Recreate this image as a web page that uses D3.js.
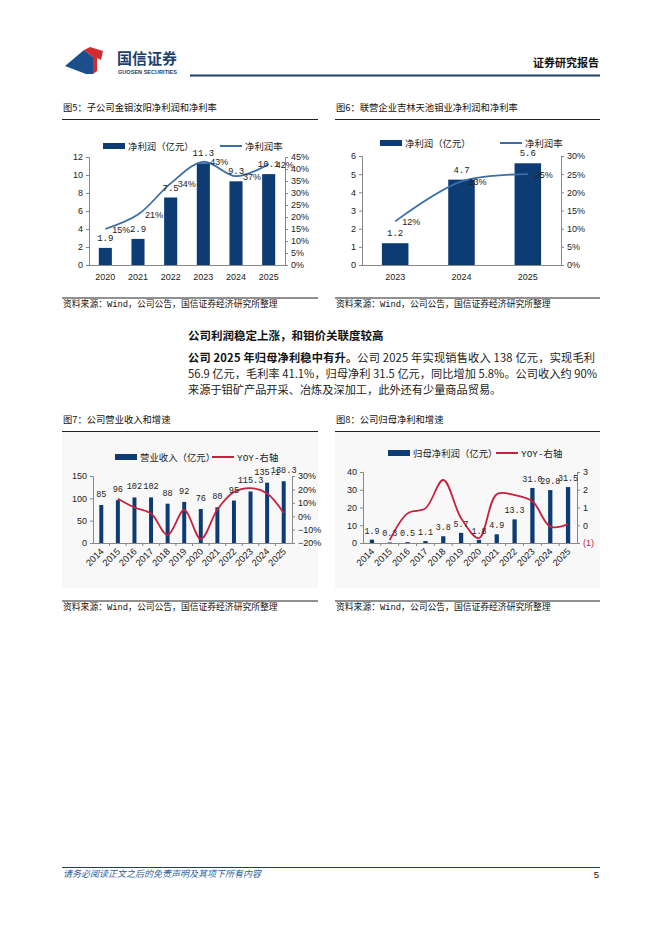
<!DOCTYPE html>
<html>
<head>
<meta charset="utf-8">
<script src="https://cdn.jsdelivr.net/npm/d3@7"></script>
<style>
  body { margin: 0; background: #fff; }
  svg text { font-family: "Noto Sans CJK SC", "Liberation Sans", sans-serif; }
</style>
</head>
<body>
<svg id="page" width="662" height="936"></svg>
<script>
// chart 5: 金钼汝阳
const c5Years = ["2020", "2021", "2022", "2023", "2024", "2025"];
const c5Profit = [1.9, 2.9, 7.5, 11.3, 9.3, 10.1];
const c5Margin = [0.15, 0.21, 0.34, 0.43, 0.37, 0.42];

// chart 6: 吉林天池钼业
const c6Years = ["2023", "2024", "2025"];
const c6Profit = [1.2, 4.7, 5.6];
const c6Margin = [0.12, 0.23, 0.25];

// chart 7: 营业收入
const c7Years = ["2014", "2015", "2016", "2017", "2018", "2019", "2020", "2021", "2022", "2023", "2024", "2025"];
const c7Revenue = [85, 96, 102, 102, 88, 92, 76, 80, 95, 115.3, 135.1, 138.3];
const c7Yoy = [null, 0.13, 0.065, 0.02, -0.14, 0.045, -0.17, 0.05, 0.18, 0.21, 0.17, 0.024];

// chart 8: 归母净利润
const c8Years = c7Years;
const c8Profit = [1.9, 0.3, 0.5, 1.1, 3.8, 5.7, 1.8, 4.9, 13.3, 31.0, 29.8, 31.5];
const c8Yoy = [null, -0.84, 0.67, 0.95, 2.55, 0.4, -0.72, 1.75, 1.7, 1.35, -0.08, 0.06];

const navy = "#0d3c74";
const blueLine = "#3b6ea8";
const redLine = "#c8203c";
const mono = "'Liberation Mono', 'Noto Sans CJK SC', monospace";

const svg = d3.select("#page");

// ---------- header ----------
svg.append("path")
    .attr("d", "M65,66 L84,50 L93,57 L93,74 L86,74 Z")
    .attr("fill", "#1b4f8c");
svg.append("path")
    .attr("d", "M84,50 L90,47 L103,51 L101,60 L97,58 L97,71 L93,74 L93,57 Z")
    .attr("fill", "#d52a30");
svg.append("text").attr("x", 117).attr("y", 64)
    .attr("font-size", 15).attr("font-weight", "bold").attr("fill", "#1d3f6e")
    .text("国信证券");
svg.append("text").attr("x", 118).attr("y", 74)
    .attr("font-size", 5.6).attr("font-weight", "bold").attr("fill", "#1d3f6e")
    .attr("textLength", 59).style("font-family", "'Liberation Sans', sans-serif")
    .text("GUOSEN SECURITIES");
svg.append("line").attr("x1", 190).attr("x2", 600).attr("y1", 75.5).attr("y2", 75.5)
    .attr("stroke", "#1c3f6b").attr("stroke-width", 2);
svg.append("text").attr("x", 599).attr("y", 67).attr("text-anchor", "end")
    .attr("font-size", 11).attr("font-weight", "bold").attr("fill", "#111")
    .text("证券研究报告");

// ---------- frames: titles, rules, sources ----------
function frame(x0, x1, titleY, srcY, title) {
    svg.append("text").attr("x", x0 + 1).attr("y", titleY)
        .attr("font-size", 9.3).attr("fill", "#111").text(title);
    svg.append("line").attr("x1", x0).attr("x2", x1)
        .attr("y1", titleY + 8.5).attr("y2", titleY + 8.5)
        .attr("stroke", "#222").attr("stroke-width", 1);
    svg.append("line").attr("x1", x0).attr("x2", x1)
        .attr("y1", srcY - 9).attr("y2", srcY - 9)
        .attr("stroke", "#222").attr("stroke-width", 1);
    svg.append("text").attr("x", x0 + 1).attr("y", srcY)
        .attr("font-size", 8.8).attr("fill", "#111")
        .style("font-family", mono)
        .text("资料来源：Wind，公司公告，国信证券经济研究所整理");
}

// faint panels behind chart 7 and 8
svg.append("rect").attr("x", 62).attr("y", 432).attr("width", 256).attr("height", 156).attr("fill", "#f8f8f8");
svg.append("rect").attr("x", 335).attr("y", 432).attr("width", 265).attr("height", 156).attr("fill", "#f8f8f8");

frame(62, 318, 111, 307, "图5：子公司金钼汝阳净利润和净利率");
frame(335, 600, 111, 307, "图6：联营企业吉林天池钼业净利润和净利率");
frame(62, 318, 423, 610, "图7：公司营业收入和增速");
frame(335, 600, 423, 610, "图8：公司归母净利和增速");

// ---------- body text ----------
svg.append("text").attr("x", 188).attr("y", 340)
    .attr("font-size", 11.5).attr("font-weight", "bold").attr("fill", "#111")
    .text("公司利润稳定上涨，和钼价关联度较高");

const p1 = svg.append("text").attr("x", 188).attr("y", 362)
    .attr("font-size", 11.2).attr("fill", "#222")
    .attr("textLength", 407).attr("lengthAdjust", "spacing");
p1.append("tspan").attr("font-weight", "bold").attr("fill", "#111").text("公司 2025 年归母净利稳中有升。");
p1.append("tspan").text("公司 2025 年实现销售收入 138 亿元，实现毛利");
svg.append("text").attr("x", 188).attr("y", 378)
    .attr("font-size", 11.2).attr("fill", "#222")
    .attr("textLength", 409).attr("lengthAdjust", "spacing")
    .text("56.9 亿元，毛利率 41.1%，归母净利 31.5 亿元，同比增加 5.8%。公司收入约 90%");
svg.append("text").attr("x", 188).attr("y", 394)
    .attr("font-size", 11.2).attr("fill", "#222")
    .text("来源于钼矿产品开采、冶炼及深加工，此外还有少量商品贸易。");

// ---------- footer ----------
svg.append("line").attr("x1", 62).attr("x2", 600).attr("y1", 867.5).attr("y2", 867.5)
    .attr("stroke", "#1c3f6b").attr("stroke-width", 1);
svg.append("text").attr("x", 63).attr("y", 877)
    .attr("font-size", 9).attr("fill", "#2f5f96").attr("font-style", "italic")
    .text("请务必阅读正文之后的免责声明及其项下所有内容");
svg.append("text").attr("x", 599).attr("y", 878).attr("text-anchor", "end")
    .attr("font-size", 9.5).attr("fill", "#111")
    .style("font-family", "'Liberation Sans', sans-serif").text("5");

// ---------- combo chart helper ----------
function drawCombo(o) {
    const g = svg.append("g");
    const x = d3.scaleBand().domain(o.cats).range([o.left, o.right])
        .paddingInner(o.pad).paddingOuter(o.pad / 2);
    const yL = d3.scaleLinear().domain([0, o.lMax]).range([o.bottom, o.top]);
    const yR = d3.scaleLinear().domain([o.rMin, o.rMax]).range([o.bottom, o.top]);
    const cx = d => x(d) + x.bandwidth() / 2;

    // left axis
    const axL = g.append("g").attr("transform", `translate(${o.left},0)`)
        .call(d3.axisLeft(yL).tickValues(d3.range(0, o.lMax + 1e-9, o.lStep))
            .tickFormat(d3.format("~g")).tickSize(3).tickPadding(3));
    // right axis
    const axR = g.append("g").attr("transform", `translate(${o.right},0)`)
        .call(d3.axisRight(yR).tickValues(d3.range(o.rMin, o.rMax + 1e-9, o.rStep))
            .tickFormat(o.rFmt).tickSize(3).tickPadding(3));
    [axL, axR].forEach(a => {
        a.selectAll("path,line").attr("stroke", "#888");
        a.selectAll("text").attr("font-size", 9).attr("fill", "#222")
            .style("font-family", "'Liberation Sans', sans-serif");
    });

    // bottom axis
    g.append("line").attr("x1", o.left).attr("x2", o.right)
        .attr("y1", o.bottom + 0.5).attr("y2", o.bottom + 0.5).attr("stroke", "#888");
    if (o.rotate) {
        g.selectAll(".tk").data(o.cats.slice(1)).join("line")
            .attr("x1", d => x(d) - x.step() * o.pad / 2).attr("x2", d => x(d) - x.step() * o.pad / 2)
            .attr("y1", o.bottom).attr("y2", o.bottom + 3).attr("stroke", "#888");
        g.selectAll(".xl").data(o.cats).join("text")
            .attr("transform", d => `translate(${cx(d) + 3},${o.bottom + 9}) rotate(-45)`)
            .attr("text-anchor", "end").attr("font-size", 9.3).attr("fill", "#222")
            .style("font-family", "'Liberation Sans', sans-serif")
            .text(d => d);
    } else {
        g.selectAll(".xl").data(o.cats).join("text")
            .attr("x", d => cx(d)).attr("y", o.bottom + 15)
            .attr("text-anchor", "middle").attr("font-size", 9).attr("fill", "#222")
            .style("font-family", "'Liberation Sans', sans-serif")
            .text(d => d);
    }

    // bars
    g.selectAll(".bar").data(o.bars).join("rect")
        .attr("x", (d, i) => x(o.cats[i])).attr("width", x.bandwidth())
        .attr("y", d => yL(d)).attr("height", d => o.bottom - yL(d))
        .attr("fill", navy);

    // line
    const pts = o.line.map((v, i) => ({ c: o.cats[i], v }));
    const line = d3.line().defined(d => d.v != null)
        .x(d => cx(d.c)).y(d => yR(d.v))
        .curve(d3.curveCatmullRom.alpha(0.5));
    g.append("path").datum(pts).attr("d", line)
        .attr("fill", "none").attr("stroke", o.lineColor).attr("stroke-width", 1.8);

    // bar labels
    g.selectAll(".bl").data(o.bars).join("text")
        .attr("x", (d, i) => cx(o.cats[i])).attr("y", d => yL(d) - o.labelGap)
        .attr("text-anchor", "middle").attr("font-size", o.labelSize).attr("fill", "#222")
        .style("font-family", mono)
        .text(o.barFmt);

    // line labels
    if (o.lineLabels) {
        g.selectAll(".ll").data(pts).join("text")
            .attr("x", d => cx(d.c) + 7).attr("y", d => yR(d.v) + 3.5)
            .attr("font-size", 9).attr("fill", "#222")
            .style("font-family", "'Liberation Sans', sans-serif")
            .text(d => d3.format(".0%")(d.v));
    }

    // legend
    const lg = o.legend;
    g.append("rect").attr("x", lg.x).attr("y", lg.y - 3).attr("width", 22).attr("height", 6).attr("fill", navy);
    g.append("text").attr("x", lg.x + 25).attr("y", lg.y + 3.5)
        .attr("font-size", 9.4).attr("fill", "#222").style("font-family", mono).text(lg.barName);
    g.append("line").attr("x1", lg.x2).attr("x2", lg.x2 + 22).attr("y1", lg.y).attr("y2", lg.y)
        .attr("stroke", o.lineColor).attr("stroke-width", 2);
    g.append("text").attr("x", lg.x2 + 25).attr("y", lg.y + 3.5)
        .attr("font-size", 9.4).attr("fill", "#222").style("font-family", mono).text(lg.lineName);
}

const pct = d3.format(".0%");
const barNum = d => Number.isInteger(d) ? String(d) : d.toFixed(1);

drawCombo({
    cats: c5Years, bars: c5Profit, line: c5Margin,
    left: 89, right: 285, top: 157, bottom: 265, pad: 0.6,
    lMax: 12, lStep: 2, rMin: 0, rMax: 0.45, rStep: 0.05, rFmt: pct,
    lineColor: blueLine, rotate: false, labelGap: 7, labelSize: 9, barFmt: d => d.toFixed(1), lineLabels: true,
    legend: { x: 103, y: 146, barName: "净利润（亿元）", x2: 220, lineName: "净利润率" }
});

drawCombo({
    cats: c6Years, bars: c6Profit, line: c6Margin,
    left: 362, right: 561, top: 156, bottom: 265, pad: 0.6,
    lMax: 6, lStep: 1, rMin: 0, rMax: 0.30, rStep: 0.05, rFmt: pct,
    lineColor: blueLine, rotate: false, labelGap: 7, labelSize: 9, barFmt: d => d.toFixed(1), lineLabels: true,
    legend: { x: 380, y: 143, barName: "净利润（亿元）", x2: 500, lineName: "净利润率" }
});

drawCombo({
    cats: c7Years, bars: c7Revenue, line: c7Yoy,
    left: 93, right: 292, top: 476, bottom: 543, pad: 0.76,
    lMax: 150, lStep: 50, rMin: -0.2, rMax: 0.3, rStep: 0.1, rFmt: pct,
    lineColor: redLine, rotate: true, labelGap: 8, labelSize: 8.6, barFmt: barNum, lineLabels: false,
    legend: { x: 115, y: 457, barName: "营业收入（亿元）", x2: 212, lineName: "YOY-右轴" }
});

drawCombo({
    cats: c8Years, bars: c8Profit, line: c8Yoy,
    left: 363, right: 577, top: 472, bottom: 543, pad: 0.76,
    lMax: 40, lStep: 10, rMin: -1, rMax: 3, rStep: 1,
    rFmt: d => d < 0 ? `(${-d})` : String(d),
    lineColor: redLine, rotate: true, labelGap: 6, labelSize: 8.4, barFmt: d => d.toFixed(1), lineLabels: false,
    legend: { x: 388, y: 453, barName: "归母净利润（亿元）", x2: 496, lineName: "YOY-右轴" }
});

// the "(1)" tick on chart 8 is printed in red
svg.selectAll("text").filter(function () { return d3.select(this).text() === "(1)"; })
    .attr("fill", redLine);
</script>
</body>
</html>
